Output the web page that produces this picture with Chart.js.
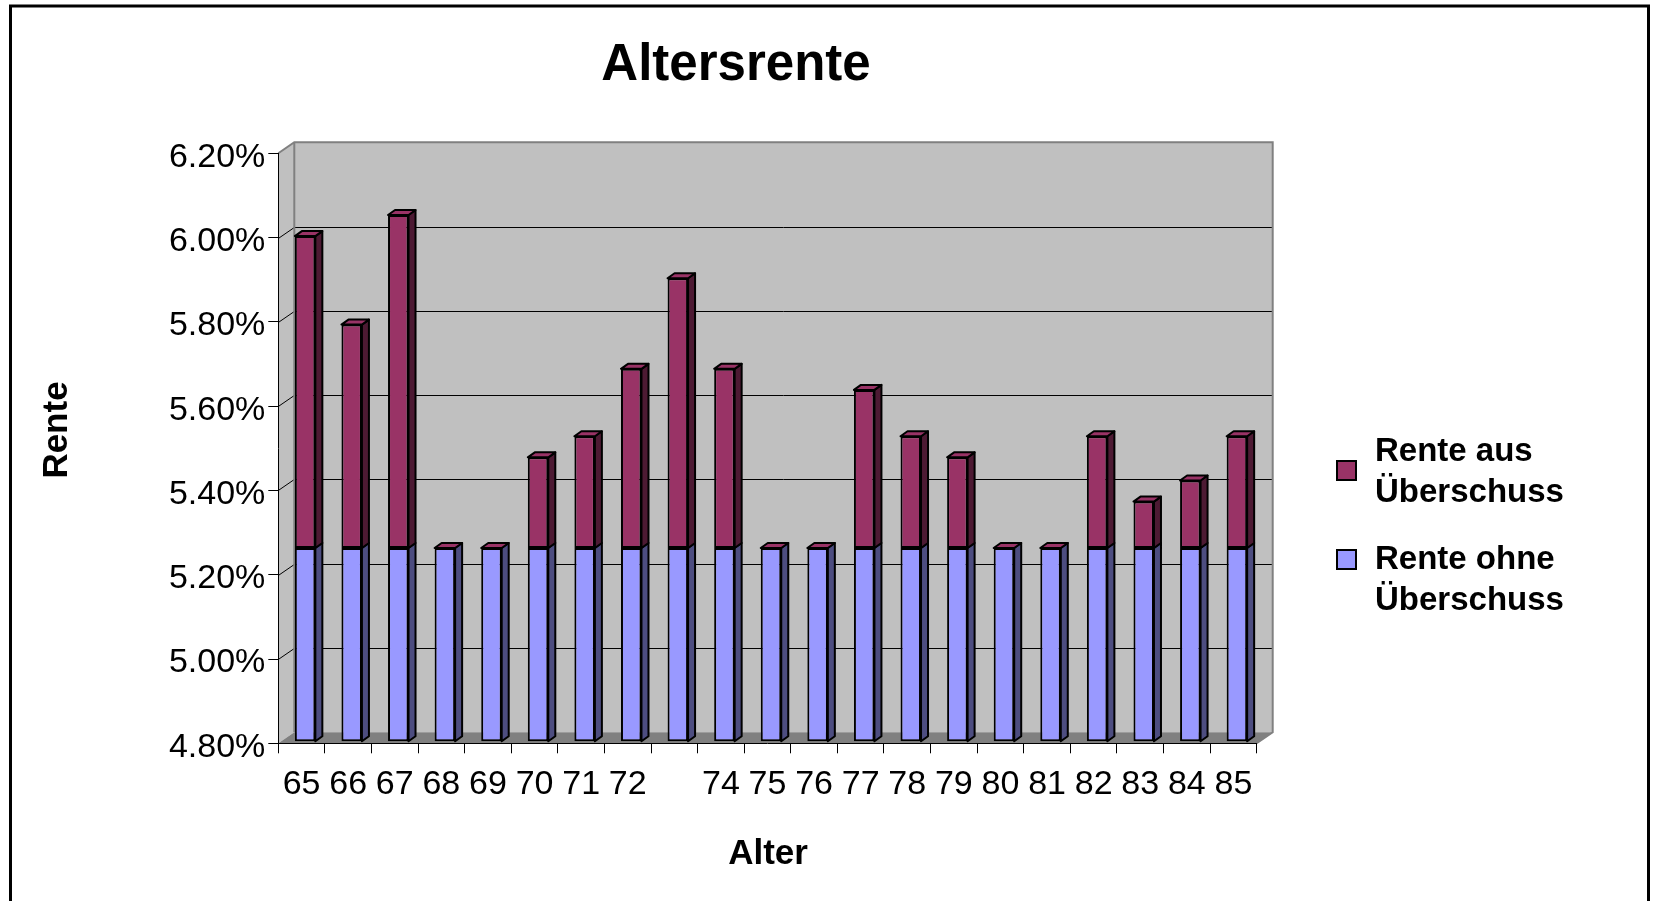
<!DOCTYPE html>
<html>
<head>
<meta charset="utf-8">
<title>Altersrente</title>
<script src="https://cdn.jsdelivr.net/npm/chart.js@4.4.0/dist/chart.umd.min.js"></script>
<style>
  html, body { margin: 0; padding: 0; background: #fff; }
  #chart { display: block; }
</style>
</head>
<body>
<canvas id="chart" width="1655" height="901"></canvas>
<script>
// Daten (Werte in %)
const alter = ['65', '66', '67', '68', '69', '70', '71', '72', '', '74', '75',
               '76', '77', '78', '79', '80', '81', '82', '83', '84', '85'];
const renteOhne = [5.26, 5.26, 5.26, 5.26, 5.26, 5.26, 5.26, 5.26, 5.26, 5.26, 5.26,
                   5.26, 5.26, 5.26, 5.26, 5.26, 5.26, 5.26, 5.26, 5.26, 5.26];
const renteAus = [0.74, 0.53, 0.79, 0, 0, 0.215, 0.265, 0.425, 0.64, 0.425, 0,
                  0, 0.375, 0.265, 0.215, 0, 0, 0.265, 0.11, 0.16, 0.265];
const seriesNames = ['Rente ohne Überschuss', 'Rente aus Überschuss'];
const yMin = 4.8, yMax = 6.2, yStep = 0.2;

const FONT = "'Liberation Sans', Arial, sans-serif";
const BLUE = '#9999FF', BLUE_SIDE = '#4D4D80';
const MAROON = '#993366', MAROON_SIDE = '#4D1A33';

// 3D-Versatz der Rückwand und der Säulen
const DEPTH_X = 16, DEPTH_Y = -11;
const BAR_DX = 3.5, BAR_DY = -1.5;
const SIDE_X = 7, SIDE_Y = -5;

function poly(ctx, pts, fill, stroke, lw) {
    ctx.beginPath();
    ctx.moveTo(pts[0][0], pts[0][1]);
    for (let i = 1; i < pts.length; i++) ctx.lineTo(pts[i][0], pts[i][1]);
    ctx.closePath();
    if (fill) { ctx.fillStyle = fill; ctx.fill(); }
    if (stroke) { ctx.strokeStyle = stroke; ctx.lineWidth = lw || 1; ctx.stroke(); }
}

const box3d = {
    id: 'box3d',
    beforeDraw(chart) {
        const ctx = chart.ctx;
        const a = chart.chartArea;
        const yScale = chart.scales.y;
        ctx.save();
        ctx.fillStyle = '#fff';
        ctx.fillRect(0, 0, chart.width, chart.height);

        // Rahmen
        ctx.strokeStyle = '#000';
        ctx.lineWidth = 3;
        ctx.strokeRect(10.5, 6, 1638, 1000);

        const bl = a.left + DEPTH_X, br = a.right + DEPTH_X;
        const bt = a.top + DEPTH_Y, bb = a.bottom + DEPTH_Y;

        // Rückwand, Seitenwand, Boden
        poly(ctx, [[bl, bt], [br, bt], [br, bb], [bl, bb]], '#C0C0C0');
        poly(ctx, [[a.left, a.top], [bl, bt], [bl, bb], [a.left, a.bottom]], '#C0C0C0');
        poly(ctx, [[a.left, a.bottom], [bl, bb], [br, bb], [a.right, a.bottom]], '#808080');

        // Gitterlinien auf der Rückwand
        ctx.lineWidth = 1;
        ctx.strokeStyle = '#000';
        yScale.ticks.forEach(t => {
            if (t.value <= yMin + 1e-6 || t.value >= yMax - 1e-6) return;
            const py = Math.round(yScale.getPixelForValue(t.value)) + 0.5;
            ctx.beginPath();
            ctx.moveTo(a.left, py);
            ctx.lineTo(bl, py + DEPTH_Y);
            ctx.lineTo(br, py + DEPTH_Y);
            ctx.stroke();
        });

        // Kanten
        ctx.strokeStyle = '#808080';
        ctx.lineWidth = 2;
        ctx.beginPath();
        ctx.moveTo(a.left, a.top);
        ctx.lineTo(bl, bt);
        ctx.lineTo(br, bt);
        ctx.lineTo(br, bb);
        ctx.lineTo(a.right, a.bottom);
        ctx.moveTo(bl, bt);
        ctx.lineTo(bl, bb);
        ctx.stroke();
        ctx.restore();
    },
    beforeDatasetsDraw(chart) {
        chart.ctx.save();
        chart.ctx.translate(BAR_DX, BAR_DY);
    },
    afterDatasetsDraw(chart) {
        const ctx = chart.ctx;
        const sides = [BLUE_SIDE, MAROON_SIDE];
        const tops = [BLUE, MAROON];
        const last = chart.data.datasets.length - 1;
        ctx.lineJoin = 'round';
        chart.data.datasets.forEach((ds, di) => {
            chart.getDatasetMeta(di).data.forEach(bar => {
                const p = bar.getProps(['x', 'y', 'base', 'width'], true);
                const l = p.x - p.width / 2, r = p.x + p.width / 2;
                const top = Math.min(p.y, p.base), bot = Math.max(p.y, p.base);
                if (bot - top > 0.5) {
                    poly(ctx, [[r, top], [r + SIDE_X, top + SIDE_Y], [r + SIDE_X, bot + SIDE_Y], [r, bot]],
                        sides[di], '#000', 2);
                }
                if (di === last) {
                    poly(ctx, [[l, top], [l + SIDE_X, top + SIDE_Y], [r + SIDE_X, top + SIDE_Y], [r, top]],
                        tops[di], '#000', 2);
                }
            });
        });
        ctx.restore();
    },
    afterDraw(chart) {
        const ctx = chart.ctx;
        ctx.save();
        ctx.fillStyle = '#000';
        ctx.textBaseline = 'alphabetic';

        // Titel
        ctx.textAlign = 'center';
        ctx.font = 'bold 51px ' + FONT;
        ctx.fillText('Altersrente', 736, 80);

        // Achsentitel
        ctx.font = 'bold 35px ' + FONT;
        ctx.fillText('Alter', 768, 864);
        ctx.save();
        ctx.translate(67, 430);
        ctx.rotate(-Math.PI / 2);
        ctx.font = 'bold 35px ' + FONT;
        ctx.fillText('Rente', 0, 0);
        ctx.restore();

        // Legende
        const items = [
            { color: MAROON, lines: ['Rente aus', 'Überschuss'], sq: 461, base: [461, 502] },
            { color: BLUE, lines: ['Rente ohne', 'Überschuss'], sq: 550, base: [569, 610] }
        ];
        ctx.textAlign = 'left';
        ctx.font = 'bold 33px ' + FONT;
        items.forEach(it => {
            ctx.fillStyle = it.color;
            ctx.fillRect(1337, it.sq, 19, 19);
            ctx.strokeStyle = '#000';
            ctx.lineWidth = 2;
            ctx.strokeRect(1337, it.sq, 19, 19);
            ctx.fillStyle = '#000';
            it.lines.forEach((t, i) => ctx.fillText(t, 1375, it.base[i]));
        });
        ctx.restore();
    }
};

const ctx = document.getElementById('chart').getContext('2d');

new Chart(ctx, {
    type: 'bar',
    data: {
        labels: alter,
        datasets: [{
            label: seriesNames[0],
            data: renteOhne,
            base: yMin,
            backgroundColor: BLUE,
            borderColor: '#000',
            borderWidth: 2,
            borderSkipped: false,
            clip: false
        }, {
            label: seriesNames[1],
            data: renteAus,
            backgroundColor: MAROON,
            borderColor: '#000',
            borderWidth: 2,
            borderSkipped: false,
            clip: false
        }]
    },
    options: {
        responsive: false,
        animation: false,
        devicePixelRatio: 1,
        layout: {
            padding: { top: 153.3, right: 398.3, bottom: 0, left: 0 }
        },
        datasets: {
            bar: { categoryPercentage: 1, barPercentage: 0.44 }
        },
        plugins: {
            legend: { display: false },
            title: { display: false },
            tooltip: { enabled: false }
        },
        scales: {
            x: {
                stacked: true,
                afterFit: s => { s.height = 157.7; },
                border: { display: true, color: '#000', width: 1 },
                grid: { drawOnChartArea: false, drawTicks: true, tickLength: 10, color: '#000', offset: true },
                ticks: {
                    autoSkip: false,
                    maxRotation: 0,
                    padding: 11,
                    color: '#000',
                    font: { family: FONT, size: 34 }
                }
            },
            y: {
                stacked: true,
                min: yMin,
                max: yMax,
                afterFit: s => { s.width = 278.3; },
                border: { display: true, color: '#000', width: 1 },
                grid: { drawOnChartArea: false, drawTicks: true, tickLength: 10, color: '#000' },
                ticks: {
                    stepSize: yStep,
                    padding: 3,
                    labelOffset: 4,
                    color: '#000',
                    font: { family: FONT, size: 34 },
                    callback: v => v.toFixed(2) + '%'
                }
            }
        }
    },
    plugins: [box3d]
});
</script>
</body>
</html>
